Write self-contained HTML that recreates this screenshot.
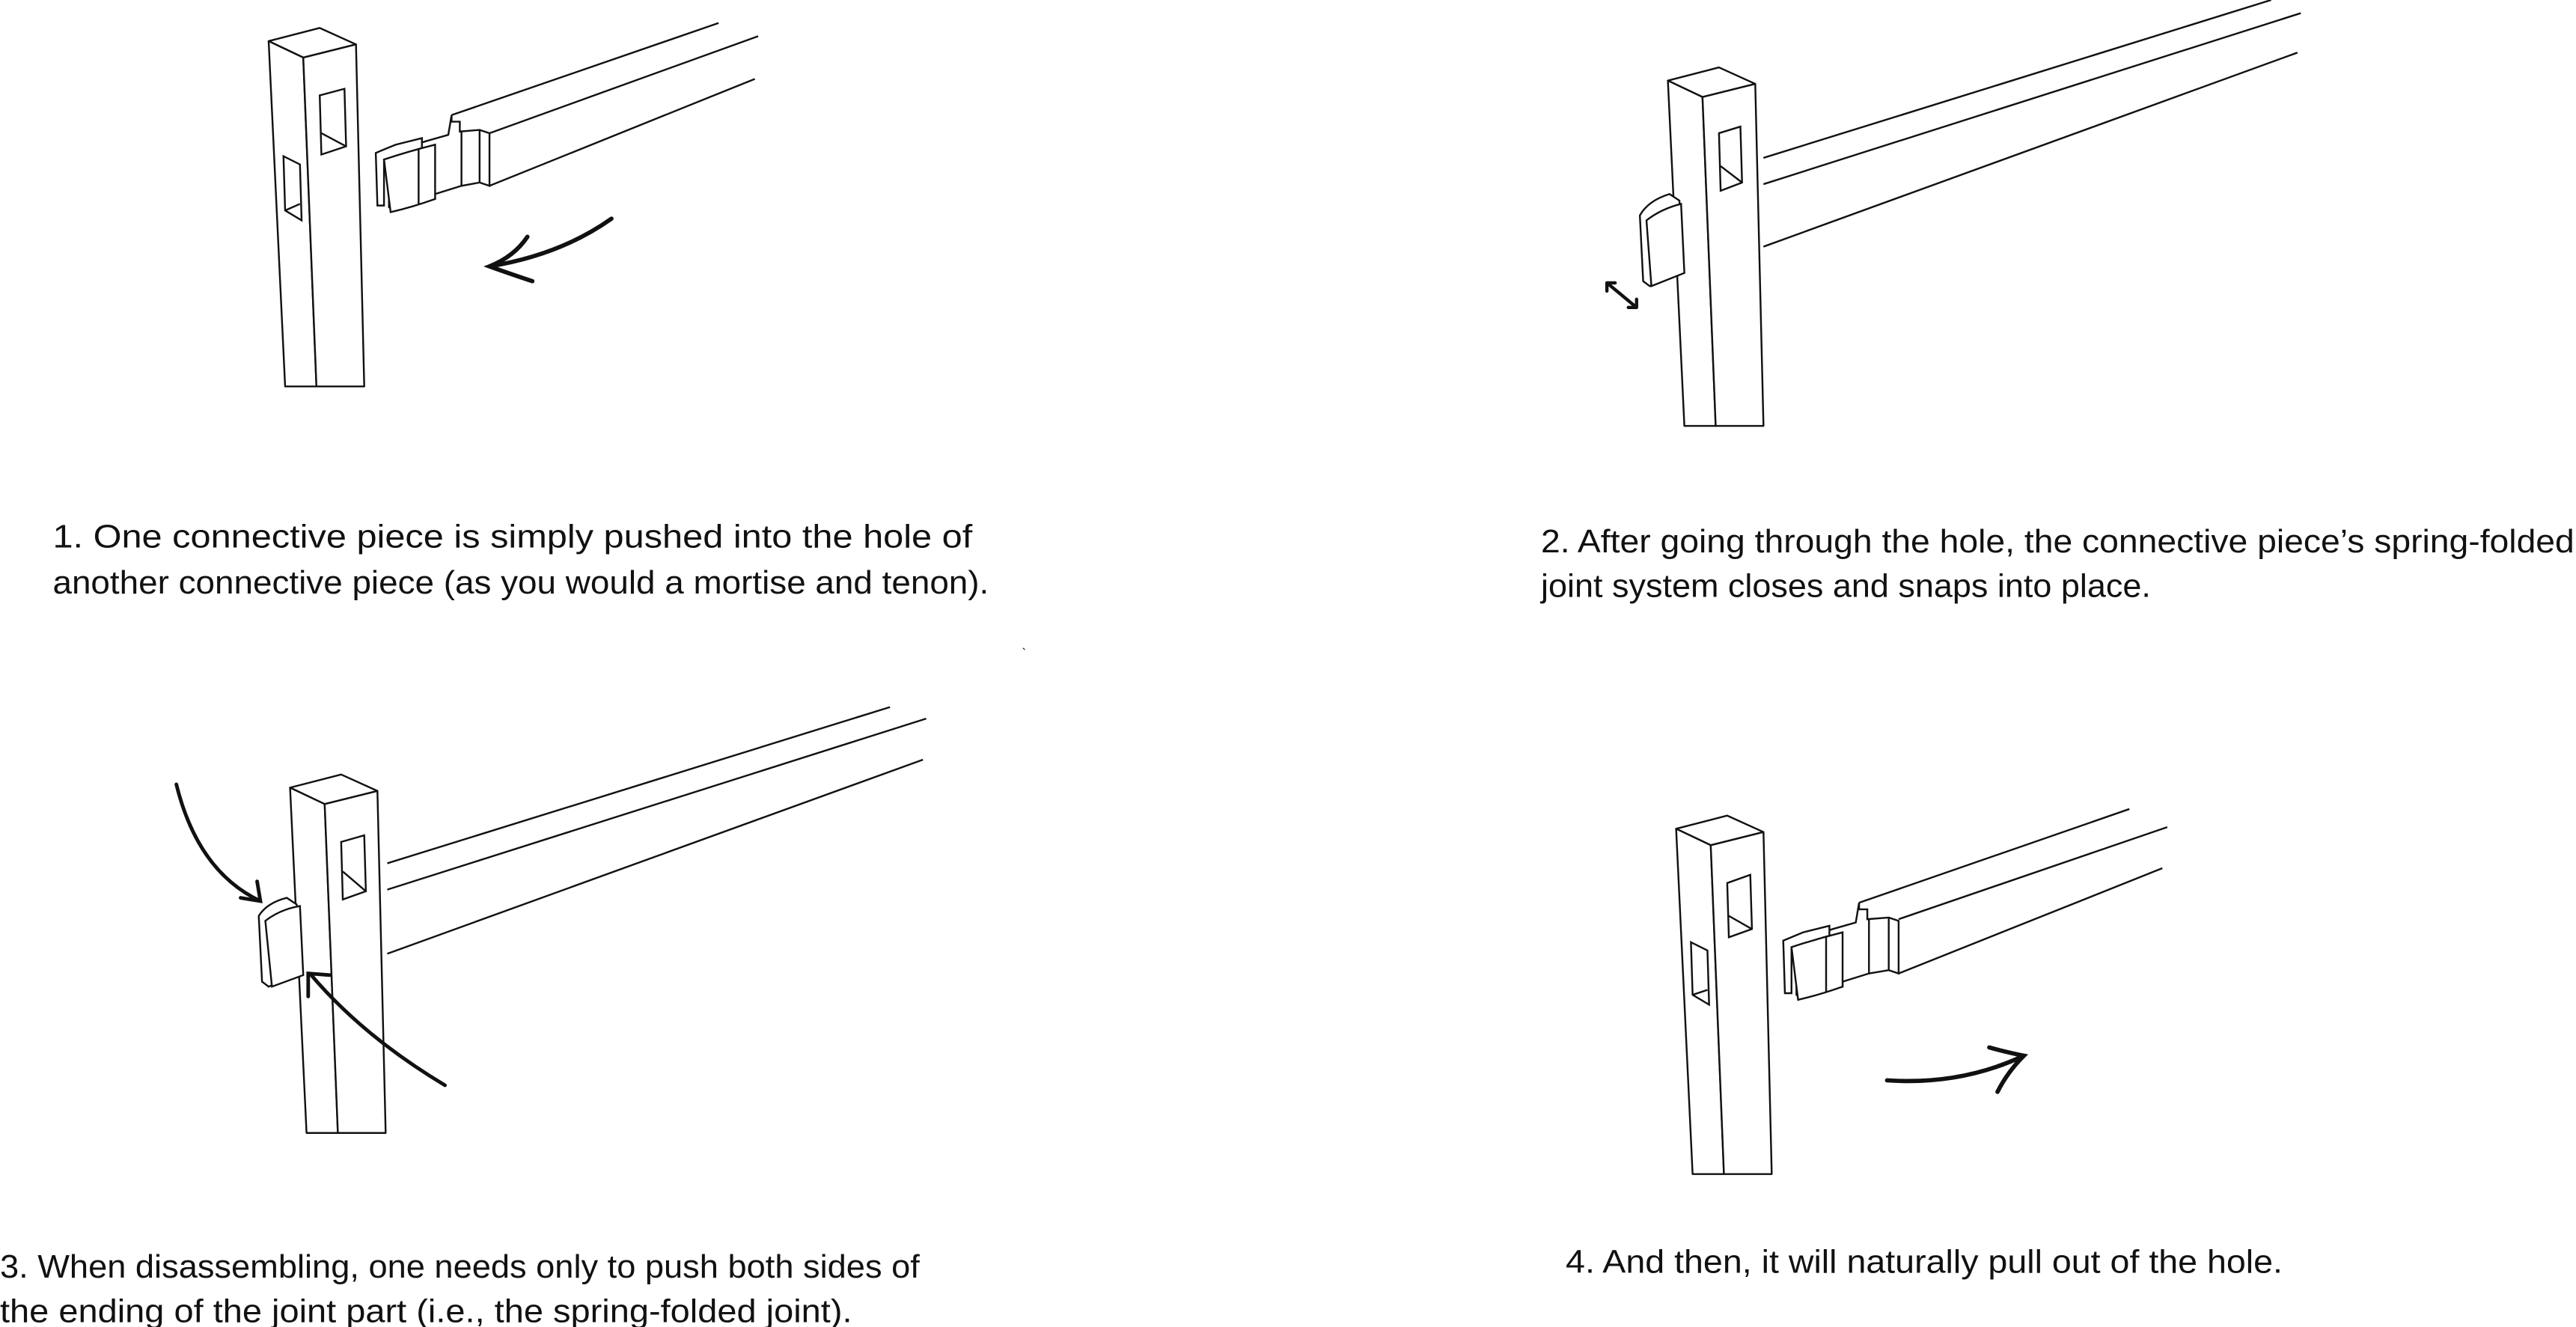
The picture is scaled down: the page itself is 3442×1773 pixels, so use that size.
<!DOCTYPE html>
<html><head><meta charset="utf-8"><style>
html,body{margin:0;padding:0;background:#fff;}
svg{display:block;}
text{font-family:"Liberation Sans",sans-serif;font-size:20px;fill:#111;}
</style></head><body>
<svg width="3442" height="1773" viewBox="0 0 1563 807" preserveAspectRatio="none" xmlns="http://www.w3.org/2000/svg">
<rect width="1563" height="807" fill="#fff"/>
<defs>
<g id="post" fill="#fff" stroke="#111" stroke-width="1.1" stroke-linejoin="round">
  <polygon points="0,8 31,0 53,10 21,18"/>
  <polygon points="0,8 21,18 29,218 10,218"/>
  <polygon points="21,18 53,10 58,218 29,218"/>
</g>
</defs>

<!-- Panel 1 -->
<g fill="none" stroke="#111" stroke-width="1.1">
  <line x1="274" y1="70" x2="436" y2="14"/>
  <line x1="297" y1="81" x2="460" y2="22"/>
  <line x1="297" y1="113" x2="458" y2="48"/>
</g>
<use href="#post" x="163" y="17"/>
<g fill="none" stroke="#111" stroke-width="1.1">
  <polygon points="194,58 209,54 210,89 195,94"/><line x1="195" y1="81" x2="210" y2="89"/>
  <polygon points="172,95 182,100 183,134 173,128"/><line x1="173" y1="128" x2="182" y2="124"/>
  <polygon points="274,70 274,74 279,74 279,80 291,79 297,81 297,113 291,111 280,113 264,118 264,121 239,128 236,126 236,93 246,90 258,86 272,82" fill="#fff"/>
  <line x1="291" y1="79" x2="291" y2="111"/><line x1="280" y1="80" x2="280" y2="113"/>
  <polygon points="228,93 240,88 256,84 256,90 240,95 233,97 233,125 229,125" fill="#fff"/>
  <path d="M233,97 Q248,92 264,88 L264,121 Q250,126 237,129 Z" fill="#fff"/>
  <line x1="254" y1="91" x2="254" y2="124"/>
</g>
<path d="M371,133 Q340,155 297,162 M320,144 Q312,156 297,162 Q308,166 323,171" fill="none" stroke="#111" stroke-width="2.6" stroke-linecap="round"/>

<!-- Panel 2 -->
<g fill="none" stroke="#111" stroke-width="1.1">
  <line x1="1070" y1="96" x2="1378" y2="0"/>
  <line x1="1070" y1="112" x2="1396" y2="8"/>
  <line x1="1070" y1="150" x2="1394" y2="32"/>
</g>
<use href="#post" x="1012" y="41"/>
<g fill="none" stroke="#111" stroke-width="1.1">
  <polygon points="1043,81 1056,77 1057,111 1044,116"/><line x1="1044" y1="101" x2="1057" y2="111"/>
  <path d="M995,131 Q1000,122 1013,118 L1019,122 L1021,165 L1001,174 L997,171 Z" fill="#fff"/>
  <path d="M999,134 Q1008,127 1020,124 L1022,166 L1002,174 Z" fill="#fff"/>
</g>
<path d="M975,172 L993,187 M975,172 l0,5 M975,172 l5,0 M993,187 l-5,0 M993,187 l0,-5" fill="none" stroke="#111" stroke-width="2" stroke-linecap="round"/>

<!-- Panel 3 -->
<g fill="none" stroke="#111" stroke-width="1.1">
  <line x1="235" y1="525" x2="540" y2="430"/>
  <line x1="235" y1="541" x2="562" y2="437"/>
  <line x1="235" y1="580" x2="560" y2="462"/>
</g>
<use href="#post" x="176" y="471"/>
<g fill="none" stroke="#111" stroke-width="1.1">
  <polygon points="207,512 221,508 222,542 208,547"/><line x1="208" y1="530" x2="222" y2="542"/>
  <path d="M157,557 Q162,549 174,546 L180,550 L182,592 L163,600 L159,597 Z" fill="#fff"/>
  <path d="M161,560 Q170,553 182,551 L184,593 L165,600 Z" fill="#fff"/>
</g>
<path d="M107,477 Q120,530 158,548 M146,546 L158,548 L156,536 M270,660 Q220,630 188,592 M187,606 L187,592 L200,593" fill="none" stroke="#111" stroke-width="2.2" stroke-linecap="round"/>

<!-- Panel 4 -->
<g fill="none" stroke="#111" stroke-width="1.1">
  <line x1="1128" y1="549" x2="1292" y2="492"/>
  <line x1="1152" y1="559" x2="1315" y2="503"/>
  <line x1="1152" y1="592" x2="1312" y2="528"/>
</g>
<use href="#post" x="1017" y="496"/>
<g fill="none" stroke="#111" stroke-width="1.1">
  <polygon points="1048,537 1062,532 1063,565 1049,570"/><line x1="1049" y1="557" x2="1063" y2="565"/>
  <polygon points="1026,573 1036,578 1037,611 1027,605"/><line x1="1027" y1="605" x2="1036" y2="602"/>
  <polygon points="1128,549 1128,553 1133,553 1133,559 1146,558 1152,560 1152,592 1146,590 1134,592 1118,597 1118,600 1093,607 1090,605 1090,572 1100,569 1112,565 1126,561" fill="#fff"/>
  <line x1="1146" y1="558" x2="1146" y2="590"/><line x1="1134" y1="559" x2="1134" y2="592"/>
  <polygon points="1082,572 1094,567 1110,563 1110,569 1094,574 1087,576 1087,604 1083,604" fill="#fff"/>
  <path d="M1087,576 Q1102,571 1118,567 L1118,600 Q1104,605 1091,608 Z" fill="#fff"/>
  <line x1="1108" y1="570" x2="1108" y2="603"/>
</g>
<path d="M1145,657 Q1190,660 1228,642 M1212,664 Q1218,652 1228,642 Q1218,640 1207,637" fill="none" stroke="#111" stroke-width="2.6" stroke-linecap="round"/>

<text x="620" y="400" style="font-size:8px">`</text>
<text x="32" y="333" textLength="558" lengthAdjust="spacingAndGlyphs">1.  One connective piece is simply pushed into the hole of</text>
<text x="32" y="361" textLength="568" lengthAdjust="spacingAndGlyphs">another connective piece (as you would a mortise and tenon).</text>
<text x="935" y="336" textLength="627" lengthAdjust="spacingAndGlyphs">2. After going through the hole, the connective piece’s spring-folded</text>
<text x="935" y="363" textLength="370" lengthAdjust="spacingAndGlyphs">joint system closes and snaps into place.</text>
<text x="0" y="777" textLength="558" lengthAdjust="spacingAndGlyphs">3. When disassembling, one needs only to push both sides of</text>
<text x="0" y="804" textLength="517" lengthAdjust="spacingAndGlyphs">the ending of the joint part (i.e., the spring-folded joint).</text>
<text x="950" y="774" textLength="435" lengthAdjust="spacingAndGlyphs">4. And then, it will naturally pull out of the hole.</text>
</svg>
</body></html>
